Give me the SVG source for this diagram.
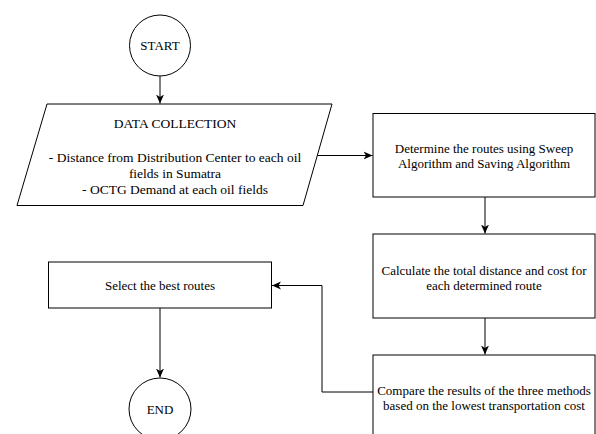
<svg xmlns="http://www.w3.org/2000/svg" width="596" height="434" viewBox="0 0 596 434">
<style>
.s{fill:#fff;stroke:#000;stroke-width:1}
.c{fill:none;stroke:#000;stroke-width:1}
text{font-family:'Liberation Serif','Times New Roman',Times,'DejaVu Serif',serif;font-size:13px;fill:#000;text-anchor:middle}
.p{font-size:13.5px}
</style>
<defs>
<marker id="a" viewBox="0 0 10 10" refX="9" refY="5" markerWidth="10" markerHeight="10" markerUnits="userSpaceOnUse" orient="auto">
<path d="M0,1 L9,5 L0,9 L2.5,5 Z" fill="#000"/>
</marker>
</defs>
<rect width="596" height="434" fill="#fff"/>
<g id="connectors">
<path class="c" d="M160,76 V103.5" marker-end="url(#a)"/>
<path class="c" d="M316.5,155.5 H372.5" marker-end="url(#a)"/>
<path class="c" d="M485,197 V233.5" marker-end="url(#a)"/>
<path class="c" d="M485,318 V354.5" marker-end="url(#a)"/>
<path class="c" d="M373,392 H322 V285.5 H272" marker-end="url(#a)"/>
<path class="c" d="M160,308 V377.5" marker-end="url(#a)"/>
</g>
<g id="start">
<circle class="s" cx="160" cy="45.5" r="30.5"/>
<text x="160" y="50">START</text>
</g>
<g id="data">
<path class="s" d="M47,104 H332 L303,205.5 H17 Z"/>
<text class="p" x="175" y="127.5">DATA COLLECTION</text>
<text class="p" x="175" y="161.5">- Distance from Distribution Center to each oil</text>
<text class="p" x="175" y="177.5">fields in Sumatra</text>
<text class="p" x="175" y="194">- OCTG Demand at each oil fields</text>
</g>
<g id="determine">
<rect class="s" x="373" y="113.5" width="222" height="83.5"/>
<text x="484" y="152.5">Determine the routes using Sweep</text>
<text x="484" y="167.5">Algorithm and Saving Algorithm</text>
</g>
<g id="calculate">
<rect class="s" x="373" y="234" width="222" height="84"/>
<text x="484" y="274.5">Calculate the total distance and cost for</text>
<text x="484" y="289.5">each determined route</text>
</g>
<g id="compare">
<rect class="s" x="373" y="355" width="222" height="84"/>
<text x="484" y="394.5">Compare the results of the three methods</text>
<text x="484" y="409.5">based on the lowest transportation cost</text>
</g>
<g id="select">
<rect class="s" x="48.5" y="262" width="223" height="46"/>
<text x="160" y="289.5">Select the best routes</text>
</g>
<g id="end">
<circle class="s" cx="160" cy="409" r="31"/>
<text x="160" y="413.5">END</text>
</g>
</svg>
